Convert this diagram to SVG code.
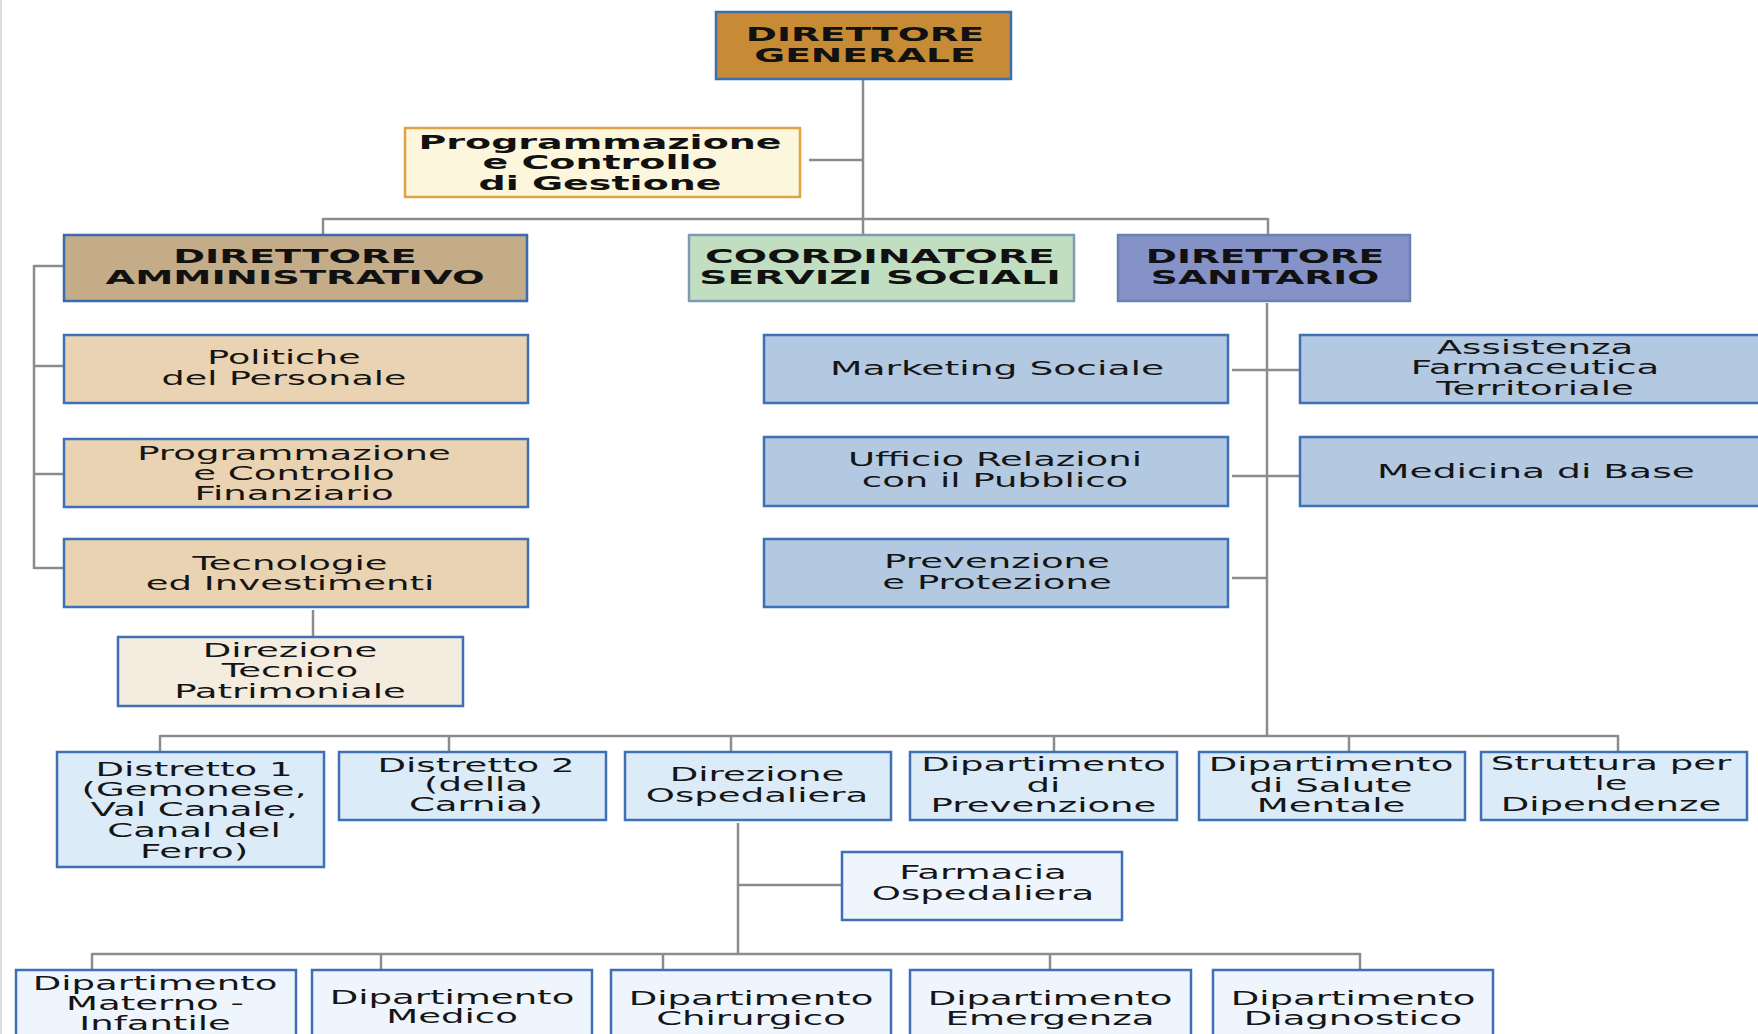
<svg xmlns="http://www.w3.org/2000/svg" width="1758" height="1034" viewBox="0 0 1758 1034">
<style>
  .box { stroke-width: 2.5; }
  .t { font-family: "DejaVu Sans", Verdana, sans-serif; font-size: 19px; fill: #151515; text-anchor: middle; }
  .tb { font-family: "DejaVu Sans", Verdana, sans-serif; font-size: 20px; font-weight: bold; fill: #111; text-anchor: middle; }
  .conn line { stroke: #8c8c8c; stroke-width: 2.5; fill: none; }
  .blue { stroke: #3f70b5; }
  .tan { fill: #e9d3b2; }
  .steel { fill: #b3c9e1; }
  .lt { fill: #dcebf8; }
  .vlt { fill: #eef5fc; }
</style>
<rect x="0" y="0" width="1758" height="1034" fill="#ffffff"/>
<line x1="1" y1="0" x2="1" y2="1034" stroke="#dddddd" stroke-width="2"/>

<g id="connectors" class="conn">
  <line x1="863" y1="79" x2="863" y2="234"/>
  <line x1="809" y1="160" x2="863" y2="160"/>
  <line x1="323" y1="219" x2="1268" y2="219"/>
  <line x1="323" y1="218" x2="323" y2="234"/>
  <line x1="1268" y1="218" x2="1268" y2="234"/>
  <line x1="34" y1="266" x2="64" y2="266"/>
  <line x1="34" y1="265" x2="34" y2="569"/>
  <line x1="34" y1="366" x2="64" y2="366"/>
  <line x1="34" y1="474" x2="64" y2="474"/>
  <line x1="34" y1="568" x2="64" y2="568"/>
  <line x1="313" y1="610" x2="313" y2="636"/>
  <line x1="1267" y1="303" x2="1267" y2="737"/>
  <line x1="1232" y1="370" x2="1299" y2="370"/>
  <line x1="1232" y1="476" x2="1299" y2="476"/>
  <line x1="1232" y1="578" x2="1267" y2="578"/>
  <line x1="160" y1="736" x2="1618" y2="736"/>
  <line x1="160" y1="735" x2="160" y2="751"/>
  <line x1="449" y1="735" x2="449" y2="751"/>
  <line x1="731" y1="735" x2="731" y2="751"/>
  <line x1="1054" y1="735" x2="1054" y2="751"/>
  <line x1="1349" y1="735" x2="1349" y2="751"/>
  <line x1="1618" y1="735" x2="1618" y2="751"/>
  <line x1="738" y1="823" x2="738" y2="955"/>
  <line x1="738" y1="885" x2="841" y2="885"/>
  <line x1="92" y1="954" x2="1360" y2="954"/>
  <line x1="92" y1="953" x2="92" y2="969"/>
  <line x1="381" y1="953" x2="381" y2="969"/>
  <line x1="663" y1="953" x2="663" y2="969"/>
  <line x1="1050" y1="953" x2="1050" y2="969"/>
  <line x1="1360" y1="953" x2="1360" y2="969"/>
</g>

<g id="n-direttore-generale">
  <rect class="box" x="716" y="12" width="295" height="67" fill="#c68b34" stroke="#3b6eb4"/>
  <text class="tb" transform="translate(865,0) scale(1.88,1)"><tspan x="0" y="41">DIRETTORE</tspan><tspan x="0" y="62">GENERALE</tspan></text>
</g>

<g id="n-prog-gestione">
  <rect class="box" x="405" y="128" width="395" height="69" fill="#fbf6dc" stroke="#e0a245"/>
  <text class="tb" style="font-size:19px" transform="translate(600,0) scale(2.0,1)"><tspan x="0" y="149.5">Programmazione</tspan><tspan x="0" y="169.5">e Controllo</tspan><tspan x="0" y="190">di Gestione</tspan></text>
</g>

<g id="n-dir-amministrativo">
  <rect class="box" x="64" y="235" width="463" height="66" fill="#c4ac88" stroke="#3a6ab0"/>
  <text class="tb" transform="translate(295,0) scale(1.92,1)"><tspan x="0" y="263">DIRETTORE</tspan><tspan x="0" y="284">AMMINISTRATIVO</tspan></text>
</g>

<g id="n-coord-servizi-sociali">
  <rect class="box" x="689" y="235" width="385" height="66" fill="#c2dec0" stroke="#7d9ab2"/>
  <text class="tb" transform="translate(880,0) scale(1.96,1)"><tspan x="0" y="263">COORDINATORE</tspan><tspan x="0" y="284">SERVIZI SOCIALI</tspan></text>
</g>

<g id="n-dir-sanitario">
  <rect class="box" x="1118" y="235" width="292" height="66" fill="#8592c8" stroke="#6a80b0"/>
  <text class="tb" transform="translate(1265,0) scale(1.88,1)"><tspan x="0" y="263">DIRETTORE</tspan><tspan x="0" y="284">SANITARIO</tspan></text>
</g>

<g id="n-politiche-personale">
  <rect class="box blue tan" x="64" y="335" width="464" height="68"/>
  <text class="t" transform="translate(284,0) scale(1.92,1)"><tspan x="0" y="364.5">Politiche</tspan><tspan x="0" y="385">del Personale</tspan></text>
</g>

<g id="n-prog-finanziario">
  <rect class="box blue tan" x="64" y="439" width="464" height="68"/>
  <text class="t" transform="translate(294,0) scale(1.95,1)"><tspan x="0" y="460">Programmazione</tspan><tspan x="0" y="480">e Controllo</tspan><tspan x="0" y="500">Finanziario</tspan></text>
</g>

<g id="n-tecnologie">
  <rect class="box blue tan" x="64" y="539" width="464" height="68"/>
  <text class="t" transform="translate(290,0) scale(1.95,1)"><tspan x="0" y="570">Tecnologie</tspan><tspan x="0" y="590">ed Investimenti</tspan></text>
</g>

<g id="n-dir-tecnico-patrimoniale">
  <rect class="box blue" x="118" y="637" width="345" height="69" fill="#f4ecdf"/>
  <text class="t" transform="translate(290,0) scale(1.95,1)"><tspan x="0" y="657">Direzione</tspan><tspan x="0" y="677.5">Tecnico</tspan><tspan x="0" y="697.5">Patrimoniale</tspan></text>
</g>

<g id="n-marketing-sociale">
  <rect class="box blue steel" x="764" y="335" width="464" height="68"/>
  <text class="t" transform="translate(997,0) scale(1.98,1)"><tspan x="0" y="375">Marketing Sociale</tspan></text>
</g>

<g id="n-urp">
  <rect class="box blue steel" x="764" y="437" width="464" height="69"/>
  <text class="t" transform="translate(995,0) scale(1.95,1)"><tspan x="0" y="466.5">Ufficio Relazioni</tspan><tspan x="0" y="487.5">con il Pubblico</tspan></text>
</g>

<g id="n-prevenzione-protezione">
  <rect class="box blue steel" x="764" y="539" width="464" height="68"/>
  <text class="t" transform="translate(997,0) scale(1.95,1)"><tspan x="0" y="568.5">Prevenzione</tspan><tspan x="0" y="589.5">e Protezione</tspan></text>
</g>

<g id="n-assistenza-farmaceutica">
  <rect class="box blue steel" x="1300" y="335" width="480" height="68"/>
  <text class="t" transform="translate(1535,0) scale(1.95,1)"><tspan x="0" y="354.5">Assistenza</tspan><tspan x="0" y="374.5">Farmaceutica</tspan><tspan x="0" y="395">Territoriale</tspan></text>
</g>

<g id="n-medicina-base">
  <rect class="box blue steel" x="1300" y="437" width="480" height="69"/>
  <text class="t" transform="translate(1536,0) scale(1.98,1)"><tspan x="0" y="478">Medicina di Base</tspan></text>
</g>

<g id="n-distretto-1">
  <rect class="box blue lt" x="57" y="752" width="267" height="115"/>
  <text class="t" transform="translate(194,0) scale(1.95,1)"><tspan x="0" y="776">Distretto 1</tspan><tspan x="0" y="796">(Gemonese,</tspan><tspan x="0" y="816.5">Val Canale,</tspan><tspan x="0" y="837">Canal del</tspan><tspan x="0" y="858">Ferro)</tspan></text>
</g>

<g id="n-distretto-2">
  <rect class="box blue lt" x="339" y="752" width="267" height="68"/>
  <text class="t" transform="translate(476,0) scale(1.95,1)"><tspan x="0" y="772.5">Distretto 2</tspan><tspan x="0" y="791.5">(della</tspan><tspan x="0" y="811.5">Carnia)</tspan></text>
</g>

<g id="n-direzione-ospedaliera">
  <rect class="box blue lt" x="625" y="752" width="266" height="68"/>
  <text class="t" transform="translate(757,0) scale(1.95,1)"><tspan x="0" y="781.5">Direzione</tspan><tspan x="0" y="802">Ospedaliera</tspan></text>
</g>

<g id="n-dip-prevenzione">
  <rect class="box blue lt" x="910" y="752" width="267" height="68"/>
  <text class="t" transform="translate(1043.5,0) scale(1.95,1)"><tspan x="0" y="771.5">Dipartimento</tspan><tspan x="0" y="792">di</tspan><tspan x="0" y="812">Prevenzione</tspan></text>
</g>

<g id="n-dip-salute-mentale">
  <rect class="box blue lt" x="1199" y="752" width="266" height="68"/>
  <text class="t" transform="translate(1331,0) scale(1.95,1)"><tspan x="0" y="771.5">Dipartimento</tspan><tspan x="0" y="792">di Salute</tspan><tspan x="0" y="812">Mentale</tspan></text>
</g>

<g id="n-struttura-dipendenze">
  <rect class="box blue lt" x="1481" y="752" width="266" height="68"/>
  <text class="t" transform="translate(1611,0) scale(1.95,1)"><tspan x="0" y="770.5">Struttura per</tspan><tspan x="0" y="790.5">le</tspan><tspan x="0" y="811">Dipendenze</tspan></text>
</g>

<g id="n-farmacia-ospedaliera">
  <rect class="box blue vlt" x="842" y="852" width="280" height="68"/>
  <text class="t" transform="translate(983,0) scale(1.95,1)"><tspan x="0" y="879">Farmacia</tspan><tspan x="0" y="900">Ospedaliera</tspan></text>
</g>

<g id="n-dip-materno-infantile">
  <rect class="box blue vlt" x="16" y="970" width="280" height="80"/>
  <text class="t" transform="translate(155,0) scale(1.95,1)"><tspan x="0" y="990">Dipartimento</tspan><tspan x="0" y="1010.5">Materno -</tspan><tspan x="0" y="1030">Infantile</tspan></text>
</g>

<g id="n-dip-medico">
  <rect class="box blue vlt" x="312" y="970" width="280" height="80"/>
  <text class="t" transform="translate(452,0) scale(1.95,1)"><tspan x="0" y="1004">Dipartimento</tspan><tspan x="0" y="1023">Medico</tspan></text>
</g>

<g id="n-dip-chirurgico">
  <rect class="box blue vlt" x="611" y="970" width="280" height="80"/>
  <text class="t" transform="translate(751,0) scale(1.95,1)"><tspan x="0" y="1005">Dipartimento</tspan><tspan x="0" y="1025">Chirurgico</tspan></text>
</g>

<g id="n-dip-emergenza">
  <rect class="box blue vlt" x="910" y="970" width="281" height="80"/>
  <text class="t" transform="translate(1050,0) scale(1.95,1)"><tspan x="0" y="1005">Dipartimento</tspan><tspan x="0" y="1025">Emergenza</tspan></text>
</g>

<g id="n-dip-diagnostico">
  <rect class="box blue vlt" x="1213" y="970" width="280" height="80"/>
  <text class="t" transform="translate(1353,0) scale(1.95,1)"><tspan x="0" y="1005">Dipartimento</tspan><tspan x="0" y="1025">Diagnostico</tspan></text>
</g>
</svg>
